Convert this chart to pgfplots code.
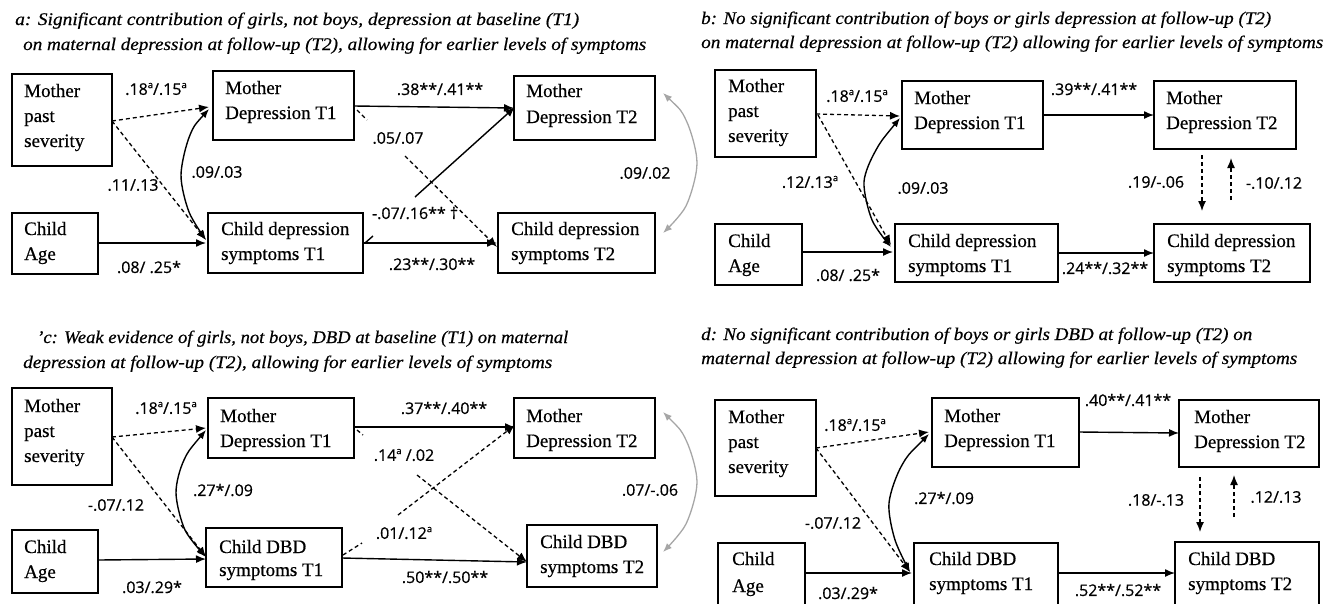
\documentclass[border=0pt]{standalone}
\usepackage{fontspec}
\setmainfont{Liberation Serif}[FakeBold=0.5]
\newfontfamily\labfont{Open Sans}[FakeBold=0.6]
\usepackage{graphicx}
\usepackage{pgfplots}
\pgfplotsset{compat=1.18}
\usetikzlibrary{arrows.meta}

\newcommand{\sa}{\raisebox{0.42em}{\fontsize{9.5}{9.5}\selectfont a}}
\tikzset{
  bxs/.style={black, line width=1.6pt, line join=miter},
  ar/.style={black, line width=1.4pt, -{Latex[length=10pt,width=8pt]}},
  ln/.style={black, line width=1.4pt},
  das/.style={black, line width=1.3pt, dash pattern=on 4pt off 3pt, -{Latex[length=10pt,width=8pt]}},
  dsh/.style={black, line width=1.3pt, dash pattern=on 4pt off 3pt},
  dbl/.style={black, line width=1.4pt, smooth, {Latex[length=9pt,width=7pt]}-{Latex[length=9pt,width=7pt]}},
  gry/.style={black!35, line width=1.3pt, smooth, {Latex[length=9pt,width=7pt]}-{Latex[length=9pt,width=7pt]}},
  bt/.style={anchor=base west, inner sep=0pt, font=\fontsize{19}{23}\selectfont},
  lab/.style={anchor=center, inner sep=0pt, font=\labfont\fontsize{16}{19}\selectfont},
  tit/.style={anchor=base west, inner sep=0pt},
}
\newcommand{\bx}[4]{\addplot[bxs] coordinates {(#1,#2) (#3,#2) (#3,#4) (#1,#4) (#1,#2) (#3,#2)};}
\newcommand{\bo}[4]{\addplot[bxs] coordinates {(#1,#4) (#1,#2) (#3,#2) (#3,#4)};}
\newcommand{\bt}[3]{\node[bt] at (axis cs:#1,#2) {#3};}
\newcommand{\lb}[3]{\node[lab] at (axis cs:#1,#2) {#3};}
\newcommand{\tl}[5]{\node[tit] at (axis cs:#1,#2) {\resizebox{#3pt}{#4pt}{\itshape #5}};}

\begin{document}
\begin{tikzpicture}
\begin{axis}[
  width=1327pt, height=603pt, scale only axis,
  xmin=0, xmax=1327, ymin=0, ymax=603, y dir=reverse,
  axis lines=none, clip=false, ticks=none,
  every axis plot/.append style={no marks},
]
\coordinate (TL) at (axis cs:0,0);
\coordinate (BR) at (axis cs:1327,603);

% ================= Panel a =================
\tl{15}{25}{564}{12.5}{a: Significant contribution of girls, not boys, depression at baseline (T1)}
\tl{23}{50}{623}{12.5}{on maternal depression at follow-up (T2), allowing for earlier levels of symptoms}
\bx{12}{74}{112}{166}
\bx{213}{71}{354}{140}
\bx{514}{76}{655}{140}
\bx{12}{213}{98}{274}
\bx{208}{213}{363}{273}
\bx{498}{213}{655}{273}
\bt{24}{97}{Mother}\bt{24}{122}{past}\bt{24}{147}{severity}
\bt{225}{94}{Mother}\bt{225}{119}{Depression T1}
\bt{526}{97}{Mother}\bt{526}{123}{Depression T2}
\bt{24}{235}{Child}\bt{24}{260}{Age}
\bt{221}{235}{Child depression}\bt{221}{260}{symptoms T1}
\bt{511}{235}{Child depression}\bt{511}{260}{symptoms T2}
\addplot[das] coordinates {(112,121) (209,107)};
\addplot[das] coordinates {(112,121) (206,240)};
\addplot[dbl] coordinates {(209,109) (190,135) (181,175) (189,212) (206,240)};
\addplot[ar] coordinates {(98,243) (206,243)};
\addplot[ar] coordinates {(354,106) (514,108)};
\addplot[dsh] coordinates {(357,110) (367,120)};
\addplot[das] coordinates {(405,156) (497,247)};
\addplot[ln] coordinates {(365,243) (373,236)};
\addplot[ar] coordinates {(415,197) (515,107)};
\addplot[ar] coordinates {(363,243) (497,243)};
\addplot[gry] coordinates {(663,93) (686,120) (697,163) (686,206) (663,233)};
\lb{156}{89}{.18\sa/.15\sa}
\lb{133}{185}{.11/.13}
\lb{217}{172}{.09/.03}
\lb{440}{89}{.38**/.41**}
\lb{398}{138}{.05/.07}
\lb{645}{173}{.09/.02}
\lb{415}{213}{-.07/.16** †}
\lb{149}{267}{.08/ .25*}
\lb{432}{264}{.23**/.30**}

% ================= Panel b =================
\tl{701}{24}{570}{12.5}{b: No significant contribution of boys or girls depression at follow-up (T2)}
\tl{701}{48}{622}{12.5}{on maternal depression at follow-up (T2) allowing for earlier levels of symptoms}
\bx{715}{70}{816}{157}
\bx{902}{81}{1043}{149}
\bx{1154}{81}{1296}{149}
\bx{715}{224}{802}{285}
\bx{895}{224}{1058}{282}
\bx{1154}{224}{1310}{282}
\bt{728}{92}{Mother}\bt{728}{117}{past}\bt{728}{142}{severity}
\bt{914}{104}{Mother}\bt{914}{129}{Depression T1}
\bt{1166}{104}{Mother}\bt{1166}{129}{Depression T2}
\bt{728}{247}{Child}\bt{728}{272}{Age}
\bt{908}{247}{Child depression}\bt{908}{272}{symptoms T1}
\bt{1167}{247}{Child depression}\bt{1167}{272}{symptoms T2}
\addplot[das] coordinates {(816,114) (900,116)};
\addplot[das] coordinates {(818,115) (891,245)};
\addplot[dbl] coordinates {(900,118) (876,150) (864,182) (872,220) (891,247)};
\addplot[ar] coordinates {(802,252) (893,252)};
\addplot[ar] coordinates {(1043,115) (1154,115)};
\addplot[ar] coordinates {(1058,253) (1154,253)};
\addplot[das] coordinates {(1202,155) (1202,211)};
\addplot[das] coordinates {(1231,200) (1231,158)};
\lb{857}{96}{.18\sa/.15\sa}
\lb{1094}{89}{.39**/.41**}
\lb{810}{182}{.12/.13\sa}
\lb{923}{188}{.09/.03}
\lb{1156}{182}{.19/-.06}
\lb{1274}{183}{-.10/.12}
\lb{848}{275}{.08/ .25*}
\lb{1105}{268}{.24**/.32**}

% ================= Panel c =================
\tl{37}{343}{531}{12.5}{'c: Weak evidence of girls, not boys, DBD at baseline (T1) on maternal}
\tl{23}{368}{529}{12.5}{depression at follow-up (T2), allowing for earlier levels of symptoms}
\bx{12}{388}{112}{485}
\bx{208}{398}{354}{458}
\bx{514}{398}{655}{458}
\bx{12}{530}{98}{593}
\bx{206}{528}{342}{587}
\bx{527}{525}{657}{587}
\bt{24}{412}{Mother}\bt{24}{437}{past}\bt{24}{462}{severity}
\bt{220}{422}{Mother}\bt{220}{447}{Depression T1}
\bt{526}{422}{Mother}\bt{526}{447}{Depression T2}
\bt{24}{553}{Child}\bt{24}{578}{Age}
\bt{219}{553}{Child DBD}\bt{219}{576}{symptoms T1}
\bt{540}{548}{Child DBD}\bt{540}{573}{symptoms T2}
\addplot[das] coordinates {(112,437) (206,428)};
\addplot[das] coordinates {(112,437) (206,557)};
\addplot[dbl] coordinates {(206,430) (184,460) (176,493) (185,530) (206,557)};
\addplot[ar] coordinates {(98,560) (206,559)};
\addplot[ar] coordinates {(355,427) (515,427)};
\addplot[dsh] coordinates {(357,430) (363,435)};
\addplot[das] coordinates {(417,475) (527,562)};
\addplot[dsh] coordinates {(343,555) (362,543)};
\addplot[das] coordinates {(398,515) (515,425)};
\addplot[ar] coordinates {(342,558) (527,562)};
\addplot[gry] coordinates {(663,412) (686,440) (697,482) (686,524) (663,552)};
\lb{166}{408}{.18\sa/.15\sa}
\lb{223}{490}{.27*/.09}
\lb{116}{505}{-.07/.12}
\lb{152}{587}{.03/.29*}
\lb{444}{408}{.37**/.40**}
\lb{404}{455}{.14\sa\ /.02}
\lb{404}{533}{.01/.12\sa}
\lb{445}{577}{.50**/.50**}
\lb{650}{490}{.07/-.06}

% ================= Panel d =================
\tl{701}{340}{551}{12.5}{d: No significant contribution of boys or girls DBD at follow-up (T2) on}
\tl{701}{364}{596}{12.5}{maternal depression at follow-up (T2) allowing for earlier levels of symptoms}
\bx{715}{400}{816}{496}
\bx{932}{398}{1079}{467}
\bx{1179}{400}{1319}{467}
\bo{718}{543}{805}{615}
\bo{914}{543}{1058}{615}
\bo{1175}{542}{1319}{615}
\bt{728}{423}{Mother}\bt{728}{448}{past}\bt{728}{473}{severity}
\bt{944}{422}{Mother}\bt{944}{447}{Depression T1}
\bt{1194}{423}{Mother}\bt{1194}{448}{Depression T2}
\bt{732}{565}{Child}\bt{732}{592}{Age}
\bt{929}{565}{Child DBD}\bt{929}{590}{symptoms T1}
\bt{1188}{565}{Child DBD}\bt{1188}{590}{symptoms T2}
\addplot[das] coordinates {(816,448) (929,432)};
\addplot[das] coordinates {(816,448) (910,572)};
\addplot[dbl] coordinates {(929,434) (902,465) (889,503) (895,540) (910,572)};
\addplot[ar] coordinates {(805,573) (912,573)};
\addplot[ar] coordinates {(1079,432) (1179,433)};
\addplot[ar] coordinates {(1058,573) (1175,573)};
\addplot[das] coordinates {(1200,477) (1200,532)};
\addplot[das] coordinates {(1234,517) (1234,475)};
\lb{855}{425}{.18\sa/.15\sa}
\lb{944}{498}{.27*/.09}
\lb{833}{523}{-.07/.12}
\lb{848}{593}{.03/.29*}
\lb{1128}{400}{.40**/.41**}
\lb{1156}{500}{.18/-.13}
\lb{1276}{497}{.12/.13}
\lb{1118}{590}{.52**/.52**}
\end{axis}
\pgfresetboundingbox
\path[use as bounding box] (TL) rectangle (BR);
\end{tikzpicture}
\end{document}
